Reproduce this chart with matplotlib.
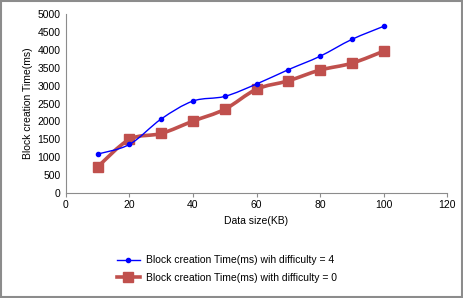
import numpy as np
import matplotlib
matplotlib.use("Agg")
from matplotlib import pyplot as plt
from matplotlib.path import Path
from matplotlib.patches import PathPatch, Rectangle

#_________________________________DATA___________________________________________#
data_size = [10, 20, 30, 40, 50, 60, 70, 80, 90, 100]  # [KB]
time_diff4 = [1090, 1360, 2070, 2570, 2700, 3045, 3445, 3820, 4290, 4655]  # [ms]
time_diff0 = [735, 1500, 1665, 2010, 2340, 2900, 3135, 3435, 3625, 3960]  # [ms]
label_diff4 = "Block creation Time(ms) wih difficulty = 4"
label_diff0 = "Block creation Time(ms) with difficulty = 0"

plt.rcParams['font.family'] = ['Liberation Sans', 'DejaVu Sans']
GRAY = '#8c8c8c'


# Smoothed line through the points (like the spreadsheet "smoothed line" option)
def smooth_path(x, y, tension=1/6):
    x = np.asarray(x, float)
    y = np.asarray(y, float)
    verts = [(x[0], y[0])]
    codes = [Path.MOVETO]
    n = len(x)
    for i in range(n - 1):
        x0, y0 = (x[i-1], y[i-1]) if i > 0 else (x[i], y[i])
        x3, y3 = (x[i+2], y[i+2]) if i + 2 < n else (x[i+1], y[i+1])
        c1 = (x[i] + (x[i+1] - x0) * tension, y[i] + (y[i+1] - y0) * tension)
        c2 = (x[i+1] - (x3 - x[i]) * tension, y[i+1] - (y3 - y[i]) * tension)
        verts += [c1, c2, (x[i+1], y[i+1])]
        codes += [Path.CURVE4] * 3
    return Path(verts, codes)


fig = plt.figure(figsize=(4.63, 2.98), dpi=100)
ax = fig.add_axes([0.1425, 0.352, 0.823, 0.601])

ax.add_patch(PathPatch(smooth_path(data_size, time_diff0), fill=False,
                       edgecolor='#c0504d', lw=2.6, zorder=2))
ax.plot(data_size, time_diff0, ls='none', marker='s', ms=7.5, color='#c0504d', zorder=3)
ax.add_patch(PathPatch(smooth_path(data_size, time_diff4), fill=False,
                       edgecolor='#0000ff', lw=1.0, zorder=4))
ax.plot(data_size, time_diff4, ls='none', marker='o', ms=3, color='#0000ff', zorder=5)

# legend handles
h4, = ax.plot([], [], color='#0000ff', lw=1.0, marker='o', ms=3)
h0, = ax.plot([], [], color='#c0504d', lw=2.6, marker='s', ms=7.5)

ax.set_xlim(0, 120)
ax.set_ylim(0, 5000)
ax.set_xticks(np.arange(0, 121, 20))
ax.set_yticks(np.arange(0, 5001, 500))
ax.tick_params(labelsize=7.5, length=3, color=GRAY, pad=2)
ax.tick_params(axis='y', length=0, pad=4)
for s in ['top', 'right']:
    ax.spines[s].set_visible(False)
for s in ['left', 'bottom']:
    ax.spines[s].set_color(GRAY)
ax.set_xlabel('Data size(KB)', fontsize=7.5, labelpad=4)
ax.set_ylabel('Block creation Time(ms)', fontsize=7.5, labelpad=3)

fig.legend([h4, h0], [label_diff4, label_diff0], loc='center',
           bbox_to_anchor=(0.49, 0.097), frameon=False, fontsize=7.5,
           handlelength=2.2, handletextpad=0.6, labelspacing=0.75)

# chart border
fig.patches.append(Rectangle((0.002, 0.003), 0.995, 0.993, transform=fig.transFigure,
                             fill=False, edgecolor=GRAY, lw=1.5))

fig.savefig('out.png', dpi=100)
